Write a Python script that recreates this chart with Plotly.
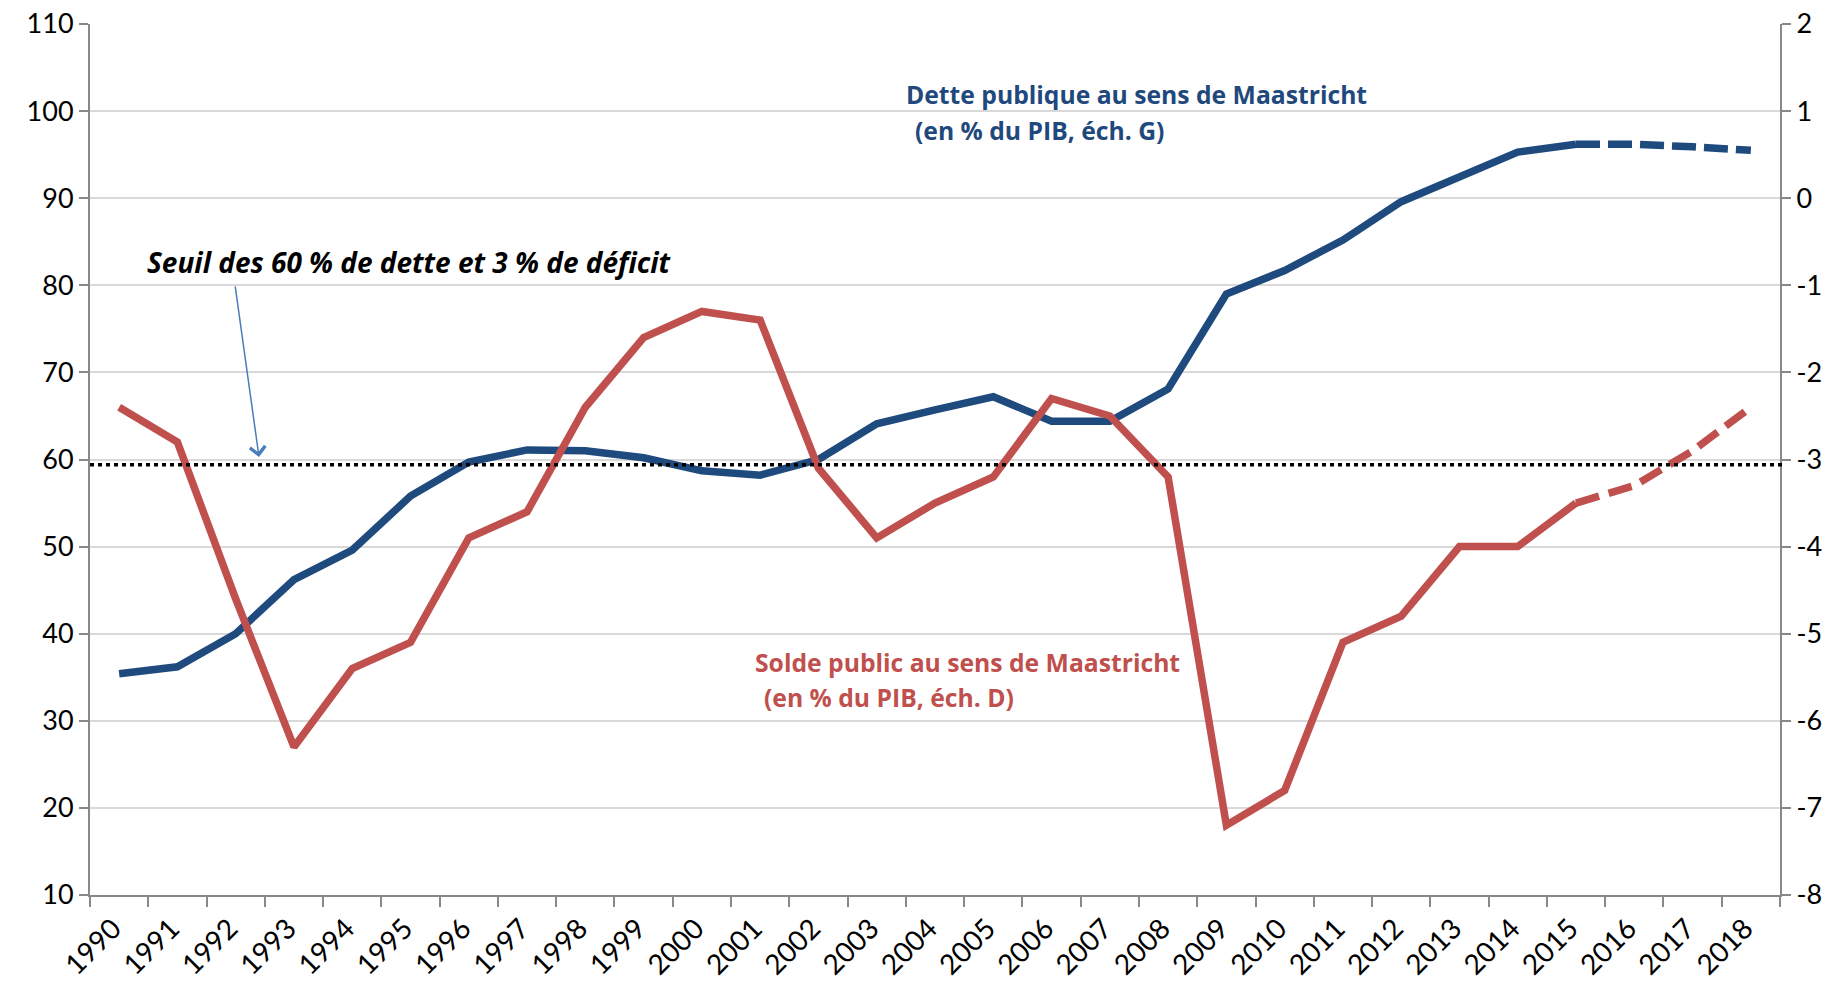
import plotly.graph_objects as go

# ---- data ----
years = list(range(1990, 2019))
year_labels = [str(y) for y in years]
debt = [35.4, 36.2, 40.0, 46.2, 49.6, 55.8, 59.7, 61.1, 61.0, 60.2,
        58.7, 58.2, 60.0, 64.1, 65.7, 67.2, 64.4, 64.4, 68.1, 79.0,
        81.7, 85.2, 89.6, 92.4, 95.3, 96.2, 96.2, 95.9, 95.5]
balance = [-2.4, -2.8, -4.6, -6.3, -5.4, -5.1, -3.9, -3.6, -2.4, -1.6,
           -1.3, -1.4, -3.1, -3.9, -3.5, -3.2, -2.3, -2.5, -3.2, -7.2,
           -6.8, -5.1, -4.8, -4.0, -4.0, -3.5, -3.3, -2.9, -2.4]
forecast_from = 2015
threshold_debt = 59.4
left_ticks = list(range(10, 111, 10))
right_ticks = list(range(-8, 3, 1))

BLUE = "#1F4A7E"
RED = "#C0504D"
AXIS = "#888888"
GRID = "#D9D9D9"
FONT = "Lato"
TFONT = "Open Sans"
LW = 7.5

k = years.index(forecast_from)

fig = go.Figure()
fig.add_trace(go.Scatter(x=year_labels[:k + 1], y=debt[:k + 1], mode="lines",
                         line=dict(color=BLUE, width=LW), showlegend=False,
                         name="Dette publique"))
fig.add_trace(go.Scatter(x=year_labels[k:], y=debt[k:], mode="lines",
                         line=dict(color=BLUE, width=LW, dash="24px,8px"),
                         showlegend=False, name="Dette publique (prévision)"))
fig.add_trace(go.Scatter(x=year_labels[:k + 1], y=balance[:k + 1], mode="lines",
                         line=dict(color=RED, width=LW), showlegend=False,
                         yaxis="y2", name="Solde public"))
fig.add_trace(go.Scatter(x=year_labels[k:], y=balance[k:], mode="lines",
                         line=dict(color=RED, width=LW, dash="24px,10px"),
                         showlegend=False, yaxis="y2", name="Solde public (prévision)"))

fig.add_shape(type="line", xref="paper", yref="y", x0=0, x1=1.003,
              y0=threshold_debt, y1=threshold_debt,
              line=dict(color="black", width=3.5, dash="4px,4px"))

fig.add_annotation(xref="paper", yref="paper", x=0.1893, y=0.7267,
                   text="<b><i>Seuil des 60 % de dette et 3 % de déficit</i></b>",
                   showarrow=False, xanchor="center", yanchor="middle",
                   font=dict(family=TFONT, size=28, color="black"))
fig.add_annotation(xref="paper", yref="paper", x=0.1000, y=0.5029,
                   ax=-24, ay=-172, text="", showarrow=True,
                   arrowhead=4, arrowsize=2, arrowwidth=1.5, arrowcolor="#4A7EBB")

fig.add_annotation(xref="paper", yref="paper", x=0.4817, y=0.9196,
                   text="<b>Dette publique au sens de Maastricht</b>",
                   showarrow=False, xanchor="left", yanchor="middle",
                   font=dict(family=TFONT, size=24.7, color="#1F497D"))
fig.add_annotation(xref="paper", yref="paper", x=0.4870, y=0.8772,
                   text="<b>(en % du PIB, éch. G)</b>",
                   showarrow=False, xanchor="left", yanchor="middle",
                   font=dict(family=TFONT, size=24.7, color="#1F497D"))
fig.add_annotation(xref="paper", yref="paper", x=0.3923, y=0.2675,
                   text="<b>Solde public au sens de Maastricht</b>",
                   showarrow=False, xanchor="left", yanchor="middle",
                   font=dict(family=TFONT, size=24.7, color=RED))
fig.add_annotation(xref="paper", yref="paper", x=0.3976, y=0.2273,
                   text="<b>(en % du PIB, éch. D)</b>",
                   showarrow=False, xanchor="left", yanchor="middle",
                   font=dict(family=TFONT, size=24.7, color=RED))

fig.update_layout(
    template="none",
    width=1837, height=983,
    margin=dict(l=90, r=57, t=24, b=88),
    paper_bgcolor="white", plot_bgcolor="white",
    font=dict(family=FONT, color="black"),
    xaxis=dict(type="category", categoryorder="array", categoryarray=year_labels,
               range=[-0.5, len(years) - 0.5], tickson="boundaries",
               ticks="outside", ticklen=10, tickwidth=2, tickcolor=AXIS,
               showline=True, linecolor=AXIS, linewidth=2, showgrid=False,
               automargin=False, ticklabelstandoff=4, ticklabelshift=-6,
               tickangle=-45, tickfont=dict(family=FONT, size=28, color="black")),
    yaxis=dict(range=[10, 110], tickvals=left_ticks, ticks="outside", ticklen=9,
               tickwidth=2, tickcolor=AXIS, showline=True, linecolor=AXIS, linewidth=2,
               showgrid=True, gridcolor=GRID, gridwidth=1.5, zeroline=False,
               automargin=False,
               tickfont=dict(family=FONT, size=27, color="black")),
    yaxis2=dict(range=[-8, 2], tickvals=right_ticks,
                ticktext=[str(v) for v in right_ticks],
                overlaying="y", side="right",
                ticks="outside", ticklen=9, tickwidth=2, tickcolor=AXIS,
                showline=True, linecolor=AXIS, linewidth=2, showgrid=False,
                zeroline=False, automargin=False,
                tickfont=dict(family=FONT, size=27, color="black")),
)

fig.write_html("out.html", config={"displayModeBar": False},
               post_script="document.body.style.margin='0';document.body.style.overflow='hidden';")
